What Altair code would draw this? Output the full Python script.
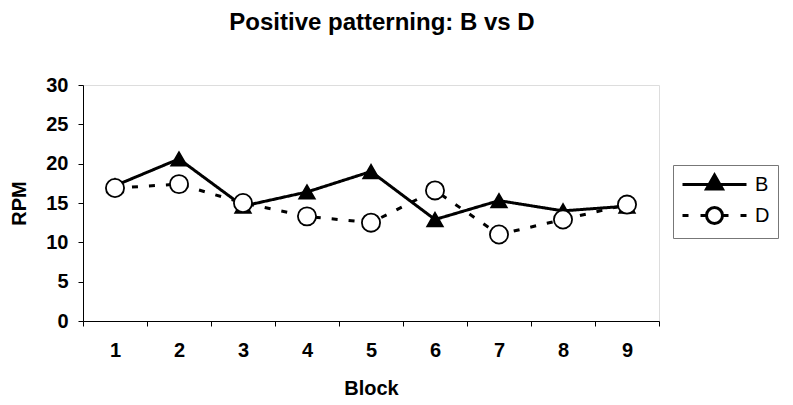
import altair as alt
import pandas as pd

blocks = [1, 2, 3, 4, 5, 6, 7, 8, 9]
series_names = ["B", "D"]
b_values = [17.2, 20.6, 14.6, 16.4, 19.0, 12.9, 15.3, 14.0, 14.6]
d_values = [16.9, 17.4, 15.0, 13.3, 12.5, 16.6, 11.0, 12.9, 14.8]
y_ticks = [0, 5, 10, 15, 20, 25, 30]

rows = []
for name, vals in zip(series_names, [b_values, d_values]):
    for blk, v in zip(blocks, vals):
        rows.append({"Block": blk, "RPM": v, "series": name})
df = pd.DataFrame(rows)

FONT = "Liberation Sans"

x_enc = alt.X(
    "Block:O",
    bandPosition=0.5,
    scale=alt.Scale(type="band", paddingInner=0, paddingOuter=0),
    axis=alt.Axis(
        title="Block", labelAngle=0, tickBand="extent", grid=False,
        labelFontSize=20, labelFontWeight="bold", labelPadding=14,
        titleFontSize=20, titleFontWeight="bold", titlePadding=18,
        tickSize=5, domainColor="black", tickColor="black",
        labelColor="black", titleColor="black", labelFont=FONT, titleFont=FONT,
    ),
)
y_enc = alt.Y(
    "RPM:Q",
    scale=alt.Scale(domain=[0, 30], nice=False, zero=True),
    axis=alt.Axis(
        title="RPM", values=y_ticks, grid=False,
        labelFontSize=20, labelFontWeight="bold", labelPadding=10,
        titleFontSize=20, titleFontWeight="bold", titlePadding=16,
        tickSize=5, domainColor="black", tickColor="black",
        labelColor="black", titleColor="black", labelFont=FONT, titleFont=FONT,
    ),
)

base = alt.Chart(df).encode(x=x_enc, y=y_enc)

lines = base.mark_line(color="black", strokeWidth=3).encode(
    strokeDash=alt.StrokeDash(
        "series:N",
        scale=alt.Scale(domain=series_names, range=[[1, 0], [6, 11]]),
        legend=None,
    ),
    detail="series:N",
)

points = base.mark_point(filled=False, stroke="black", strokeWidth=1.8, opacity=1).encode(
    shape=alt.Shape(
        "series:N",
        scale=alt.Scale(domain=series_names, range=["triangle-up", "circle"]),
        legend=None,
    ),
    fill=alt.Fill(
        "series:N",
        scale=alt.Scale(domain=series_names, range=["black", "white"]),
        legend=None,
    ),
    size=alt.Size(
        "series:N",
        scale=alt.Scale(domain=series_names, range=[240, 330]),
        legend=None,
    ),
)

b_path = "M-1,0L5.4,0M2.2,-0.95L3.0,0.45L1.4,0.45Z"
d_path = ("M-1,0L-0.4,0M0.8,0L1.4,0M3.0,0L3.6,0M4.8,0L5.4,0"
          "M3.0,0A0.8,0.8 0 1,1 1.4,0A0.8,0.8 0 1,1 3.0,0Z")

legend_props = dict(
    title=None, orient="none", legendX=590, legendY=80,
    symbolSize=400, symbolOpacity=1, symbolStrokeWidth=3,
    labelFontSize=20, labelFont=FONT, labelColor="black",
    labelOffset=51, rowPadding=6,
    strokeColor="#777777", padding=8,
)

legend_layer = base.mark_point(filled=False, opacity=0, strokeWidth=3).encode(
    shape=alt.Shape(
        "series:N",
        scale=alt.Scale(domain=series_names, range=[b_path, d_path]),
        legend=alt.Legend(**legend_props),
    ),
    fill=alt.Fill(
        "series:N",
        scale=alt.Scale(domain=series_names, range=["black", "white"]),
        legend=alt.Legend(**legend_props),
    ),
    stroke=alt.Stroke(
        "series:N",
        scale=alt.Scale(domain=series_names, range=["black", "black"]),
        legend=alt.Legend(**legend_props),
    ),
)

chart = (
    alt.layer(lines, points, legend_layer)
    .resolve_scale(shape="independent", fill="independent", size="independent",
                   strokeDash="independent", stroke="independent")
    .properties(
        width=576,
        height=236,
        autosize=alt.AutoSizeParams(type="none"),
        padding={"left": 75, "top": 77, "right": 126, "bottom": 76},
        title=alt.TitleParams(
            "Positive patterning: B vs D",
            fontSize=24, fontWeight="bold", font=FONT, color="black",
            anchor="middle", dx=11, offset=40,
        ),
    )
    .configure_view(stroke=None)
    .configure(background="white")
)

chart.save("out.html", embed_options={"renderer": "svg", "actions": False})
